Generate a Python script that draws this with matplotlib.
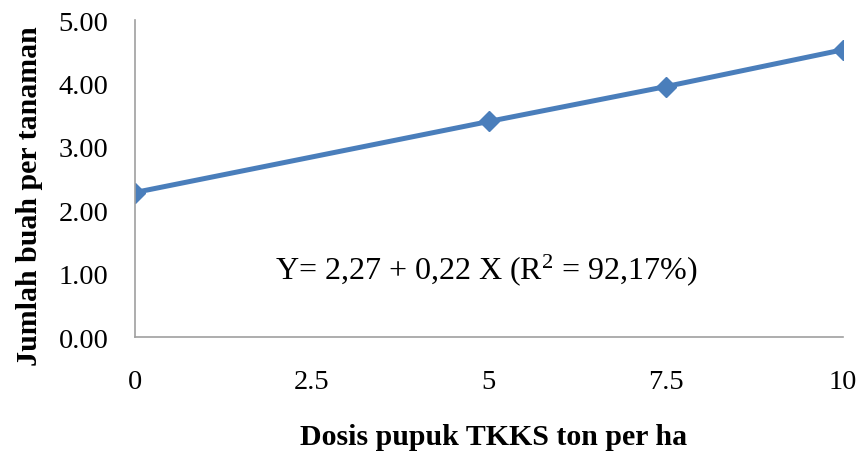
import numpy as np
import matplotlib
matplotlib.use("Agg")
import matplotlib.pyplot as plt

# data
dosis = [0, 5, 7.5, 10]
buah = [2.28, 3.40, 3.95, 4.53]
xticks = [0, 2.5, 5, 7.5, 10]
xlabels = ["0", "2.5", "5", "7.5", "10"]
yticks = [0, 1, 2, 3, 4, 5]

plt.rcParams['font.family'] = ['Liberation Serif', 'DejaVu Serif']
plt.rcParams['mathtext.fontset'] = 'custom'
plt.rcParams['mathtext.rm'] = 'Liberation Serif'
plt.rcParams['mathtext.it'] = 'Liberation Serif:italic'

fig = plt.figure(figsize=(8.59, 4.52), dpi=100)
ax = fig.add_axes([0.157, 0.252, 0.824, 0.7015])

ax.plot(dosis, buah, color="#4a7ebb", lw=3.6, marker="D", ms=10.5,
        markerfacecolor="#4a7ebb", markeredgecolor="#4a7ebb", solid_capstyle="round")

ax.set_xlim(0, 10)
ax.set_ylim(0, 5)
ax.set_xticks(xticks)
ax.set_xticklabels(xlabels)
ax.set_yticks(yticks)
ax.set_yticklabels(["%.2f" % v for v in yticks])
ax.tick_params(axis="x", length=0, pad=23, labelsize=20.5)
ax.tick_params(axis="y", length=0, pad=19, labelsize=20.5)

for s in ["top", "right"]:
    ax.spines[s].set_visible(False)
for s in ["left", "bottom"]:
    ax.spines[s].set_color("#a0a0a0")
    ax.spines[s].set_linewidth(1.2)

ax.text(4.96, 1.07, "Y= 2,27 + 0,22 X (R$^{2}$ = 92,17%)", ha="center", va="center",
        fontsize=23)

fig.text(0.034, 0.566, "Jumlah buah per tanaman", rotation=90, ha="center", va="center",
         fontsize=21.5, fontweight="bold")
fig.text(0.574, 0.031, "Dosis pupuk TKKS ton per ha", ha="center", va="center",
         fontsize=21.5, fontweight="bold")

fig.savefig("out.png", dpi=100)
